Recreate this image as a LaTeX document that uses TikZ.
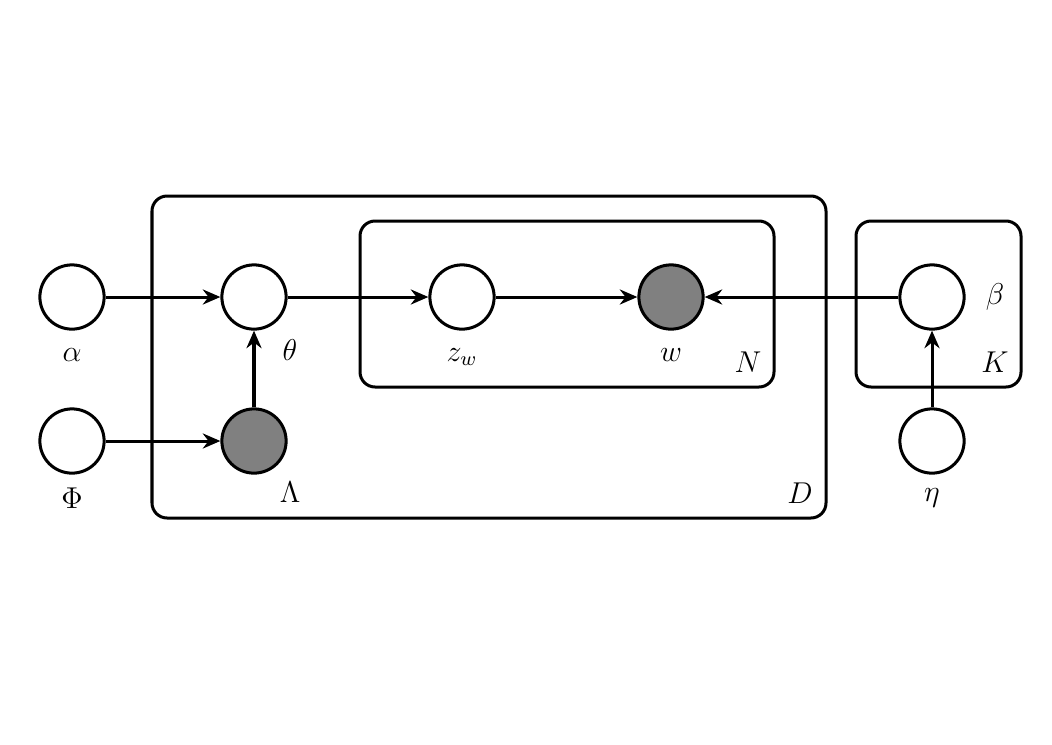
\documentclass[tikz,border=0pt]{standalone}
\usetikzlibrary{arrows.meta}
\begin{document}
\begin{tikzpicture}[x=0.014cm,y=-0.014cm,
  var/.style={circle,draw,line width=1.2pt,minimum size=0.9cm,inner sep=0pt},
  obs/.style={var,fill=gray},
  plate/.style={draw,line width=1.2pt,rounded corners=6pt},
  lbl/.style={font=\large},
  edge/.style={line width=1.2pt,-{Stealth[length=7pt,width=6pt]}}]
\useasboundingbox (0,0) rectangle (1052,744);
\draw[plate] (152,196) rectangle (826,518);
\draw[plate] (360,221) rectangle (774,387);
\draw[plate] (856,221) rectangle (1021,387);
\node[lbl] (lD) at (800,493) {$D$};
\node[lbl] (lN) at (748,362) {$N$};
\node[lbl] (lK) at (995,362) {$K$};
\node[var] (alpha) at (72,297) {};
\node[var] (theta) at (254,297) {};
\node[var] (z) at (462,297) {};
\node[obs] (w) at (671,297) {};
\node[var] (beta) at (932,297) {};
\node[var] (phi) at (72,441) {};
\node[obs] (lam) at (254,441) {};
\node[var] (eta) at (932,441) {};
\node[lbl] (ta) at (72,355) {$\alpha$};
\node[lbl] (tt) at (290,350) {$\theta$};
\node[lbl] (tz) at (462,357) {$z_w$};
\node[lbl] (tw) at (671,355) {$w$};
\node[lbl] (tb) at (995,297) {$\beta$};
\node[lbl] (tp) at (72,498) {$\Phi$};
\node[lbl] (tl) at (290,492) {$\Lambda$};
\node[lbl] (te) at (932,498) {$\eta$};
\draw[edge] (alpha) -- (theta);
\draw[edge] (theta) -- (z);
\draw[edge] (z) -- (w);
\draw[edge] (beta) -- (w);
\draw[edge] (phi) -- (lam);
\draw[edge] (lam) -- (theta);
\draw[edge] (eta) -- (beta);
\end{tikzpicture}
\end{document}
